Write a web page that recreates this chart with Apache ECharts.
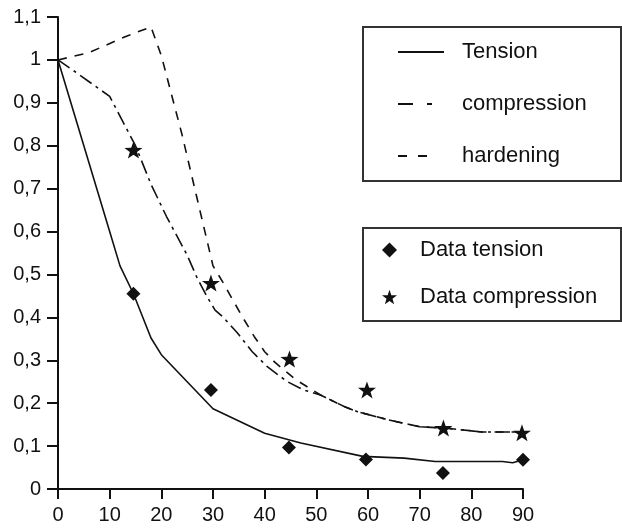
<!DOCTYPE html>
<html>
<head>
<meta charset="utf-8">
<script src="https://cdn.jsdelivr.net/npm/echarts@6/dist/echarts.min.js"></script>
<style>
  html, body { margin: 0; padding: 0; background: #fff; }
  #main { width: 622px; height: 531px; }
</style>
</head>
<body>
<div id="main"></div>
<script>
// curves: [angle, ratio]
var tensionCurve = [[0, 1], [5, 0.8], [10, 0.6], [12, 0.52], [14.6, 0.455], [18, 0.352], [20, 0.313],
  [30, 0.187], [40, 0.13], [47, 0.107], [59, 0.076], [67, 0.072], [73, 0.064], [86, 0.064], [88, 0.061], [90, 0.068]]
var compressionCurve = [[0, 1], [3, 0.975], [10, 0.915], [15, 0.8], [18, 0.71], [21, 0.635], [25, 0.545],
  [27, 0.49], [29, 0.445], [30.4, 0.417], [32, 0.4], [34.7, 0.364], [37.6, 0.32], [40.5, 0.285], [44.4, 0.25],
  [47.5, 0.231], [50.8, 0.219], [55.6, 0.191], [58, 0.18], [64, 0.161], [70, 0.145], [75, 0.142], [82, 0.133], [90, 0.133]]
var hardeningCurve = [[0, 1], [6, 1.017], [13, 1.054], [18, 1.077], [20, 1.01], [24, 0.826], [30, 0.52],
  [32, 0.48], [34, 0.437], [36, 0.395], [38, 0.355], [40, 0.32], [42, 0.295], [44, 0.275], [46, 0.255], [48, 0.24],
  [50.8, 0.219], [55.6, 0.191], [58, 0.18], [64, 0.161], [70, 0.145], [75, 0.142], [82, 0.133], [90, 0.133]]

// measured points
var dataTension = [[14.6, 0.455], [29.6, 0.231], [44.7, 0.097], [59.6, 0.069], [74.5, 0.037], [90, 0.068]]
var dataCompression = [[14.6, 0.79], [29.6, 0.48], [44.8, 0.303], [59.8, 0.231], [74.6, 0.142], [89.8, 0.131]]

var ink = '#111'
var font = 'Liberation Sans, Arial, sans-serif'
var starPath = 'path://M50 0L61.76 33.82L97.55 34.55L69.02 56.18L79.39 90.45L50 70L20.61 90.45L30.98 56.18L2.45 34.55L38.24 33.82Z'

var chart = echarts.init(document.getElementById('main'))
var option = {
  animation: false,
  backgroundColor: '#fff',
  grid: { left: 58, right: 99, top: 17, bottom: 42 },
  xAxis: {
    type: 'value',
    min: 0,
    max: 90,
    interval: 10,
    splitLine: { show: false },
    axisLine: { show: true, onZero: false, lineStyle: { color: ink, width: 2 } },
    axisTick: { show: true, length: 10, lineStyle: { color: ink, width: 2 } },
    axisLabel: { color: ink, fontSize: 20, fontFamily: font, margin: 16 },
  },
  yAxis: {
    type: 'value',
    min: 0,
    max: 1.1,
    interval: 0.1,
    splitLine: { show: false },
    axisLine: { show: true, onZero: false, lineStyle: { color: ink, width: 2 } },
    axisTick: { show: true, length: 11, lineStyle: { color: ink, width: 2 } },
    axisLabel: {
      color: ink,
      fontSize: 20,
      fontFamily: font,
      margin: 17,
      formatter: function (v) {
        return String(+v.toFixed(1)).replace('.', ',')
      },
    },
  },
  // legend frames
  graphic: [
    { type: 'rect', shape: { x: 363, y: 27, width: 258, height: 154 }, style: { fill: 'none', stroke: '#333', lineWidth: 2 } },
    { type: 'rect', shape: { x: 363, y: 228, width: 258, height: 93 }, style: { fill: 'none', stroke: '#333', lineWidth: 2 } },
  ],
  legend: [
    {
      data: [
        { name: 'Tension' },
        { name: 'compression', lineStyle: { type: [15, 14, 5, 100] } },
        { name: 'hardening', lineStyle: { type: [9, 11, 9, 100] } },
      ],
      orient: 'vertical',
      left: 397,
      top: 41,
      padding: 0,
      itemWidth: 46,
      itemHeight: 14,
      itemGap: 30,
      itemStyle: { color: 'rgba(0,0,0,0)', borderWidth: 0 },
      textStyle: { color: ink, fontSize: 22, fontFamily: font, lineHeight: 22, padding: [0, 0, 0, 13] },
    },
    {
      data: ['Data tension', 'Data compression'],
      orient: 'vertical',
      left: 382,
      top: 239,
      padding: 0,
      itemWidth: 15,
      itemHeight: 15,
      itemGap: 25,
      textStyle: { color: ink, fontSize: 22, fontFamily: font, lineHeight: 22, padding: [0, 0, 0, 18] },
    },
  ],
  series: [
    {
      name: 'Tension',
      type: 'line',
      data: tensionCurve,
      symbol: 'none',
      lineStyle: { color: ink, width: 1.6 },
      itemStyle: { color: ink },
    },
    {
      name: 'compression',
      type: 'line',
      data: compressionCurve,
      symbol: 'none',
      lineStyle: { color: ink, width: 1.6, type: [14, 5, 3, 5] },
      itemStyle: { color: ink },
    },
    {
      name: 'hardening',
      type: 'line',
      data: hardeningCurve,
      symbol: 'none',
      lineStyle: { color: ink, width: 1.6, type: [9, 8] },
      itemStyle: { color: ink },
    },
    {
      name: 'Data tension',
      type: 'scatter',
      data: dataTension,
      symbol: 'diamond',
      symbolSize: [14, 14],
      itemStyle: { color: ink, opacity: 1 },
    },
    {
      name: 'Data compression',
      type: 'scatter',
      data: dataCompression,
      symbol: starPath,
      symbolSize: [18, 17],
      itemStyle: { color: ink, opacity: 1 },
    },
  ],
}
chart.setOption(option)

window.addEventListener('resize', function () {
  chart.resize()
})
</script>
</body>
</html>
